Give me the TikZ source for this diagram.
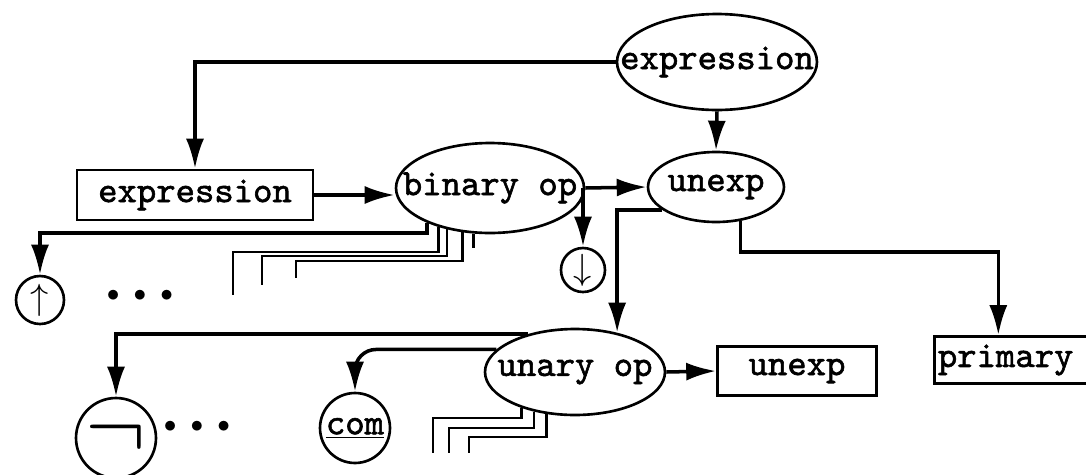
\documentclass[tikz,border=0pt]{standalone}
\usepackage{graphicx}
\usepackage{fontspec}
\newfontfamily\codefont{lmmono10-regular.otf}[FakeBold=1.6]
\usepackage{tikz}
\usetikzlibrary{shapes.geometric,arrows.meta}

\begin{document}
\begin{tikzpicture}[x=0.02cm, y=-0.02cm,
	% Define styles for the syntax graph
	word/.style={font=\fontsize{21}{24}\selectfont\codefont},
	oval/.style={ellipse, draw, line width=1.5pt, inner sep=0pt, word},
	box/.style={rectangle, draw, line width=1.5pt, inner sep=0pt, word},
	term/.style={circle, draw, line width=1.5pt, inner sep=0pt, word},
	more/.style={font=\fontsize{15}{15}\selectfont},
	link/.style={line width=2pt, -{Latex[length=0.6cm,width=0.36cm]}},
	stub/.style={line width=1.4pt}
	]
	\useasboundingbox (0,0) rectangle (1086,474);
	
	% Place the nodes
	\node[oval, minimum width=4cm, minimum height=1.92cm] (exptop) at (717,62) {\makebox[0pt]{expression}};
	\node[box, minimum width=4.72cm, minimum height=1cm] (expbox) at (195,195) {expression};
	\node[oval, minimum width=3.76cm, minimum height=1.8cm] (binop) at (490,188) {\makebox[0pt]{binary op}};
	\node[oval, minimum width=2.72cm, minimum height=1.4cm] (unexpov) at (716,187) {\makebox[0pt]{unexp}};
	\node[term, minimum size=0.96cm] (upc) at (40,300) {$\uparrow$};
	\node[more] (dots1) at (140,296) {$\bullet\mkern6mu\bullet\mkern6mu\bullet$};
	\node[term, minimum size=0.88cm] (dnc) at (583,270) {$\downarrow$};
	\node[oval, minimum width=3.6cm, minimum height=1.72cm] (unop) at (575,372) {\makebox[0pt]{unary op}};
	\node[box, minimum width=3.18cm, minimum height=0.98cm] (unexpbox) at (797,371) {unexp};
	\node[box, minimum height=0.94cm, anchor=west, text width=3.3cm, inner xsep=2pt] (prim) at (933,360) {primary};
	\node[term, minimum size=1.6cm] (negc) at (116,438) {\scalebox{2.5}{$\neg$}};
	\node[more] (dots2) at (197,427) {$\bullet\mkern6mu\bullet\mkern6mu\bullet$};
	\node[term, minimum size=1.4cm] (comc) at (355,428) {\underline{com}};
	
	% Draw the connectors
	\draw[link] (exptop.west) -| (expbox.north);
	\draw[link] (exptop.south) -- (unexpov.north);
	\draw[link] (expbox.east) -- (expbox.east -| binop.west);
	\draw[link] (binop.east) -- (unexpov.west);
	\draw[link] (dnc.north |- binop.east) -- (dnc.north);
	\draw[link] (binop.209) -- ++(0,10) -| (upc.north);
	\foreach \a/\h/\l/\e in {217/252/233/295, 224/256/262/285, 238/261/296/278}
		\draw[stub] (binop.\a) |- (\l,\h) -- (\l,\e);
	\draw[stub] (binop.250) -- ++(0,14);
	
	\draw[link] (unexpov.203) -| (unop.43);
	\draw[link] (unexpov.306) -- ++(0,31) -| ([xshift=-0.44cm]prim.north);
	\draw[link] (unop.east) -- (unexpbox.west);
	\draw[link] (unop.141) -| (negc.north);
	\draw[link, rounded corners=12pt] (unop.164) -| (comc.north);
	\foreach \a/\h/\l/\e in {214/418/433/453, 224/428/449/453, 236/437/469/453}
		\draw[stub] (unop.\a) |- (\l,\h) -- (\l,\e);
\end{tikzpicture}
\end{document}
